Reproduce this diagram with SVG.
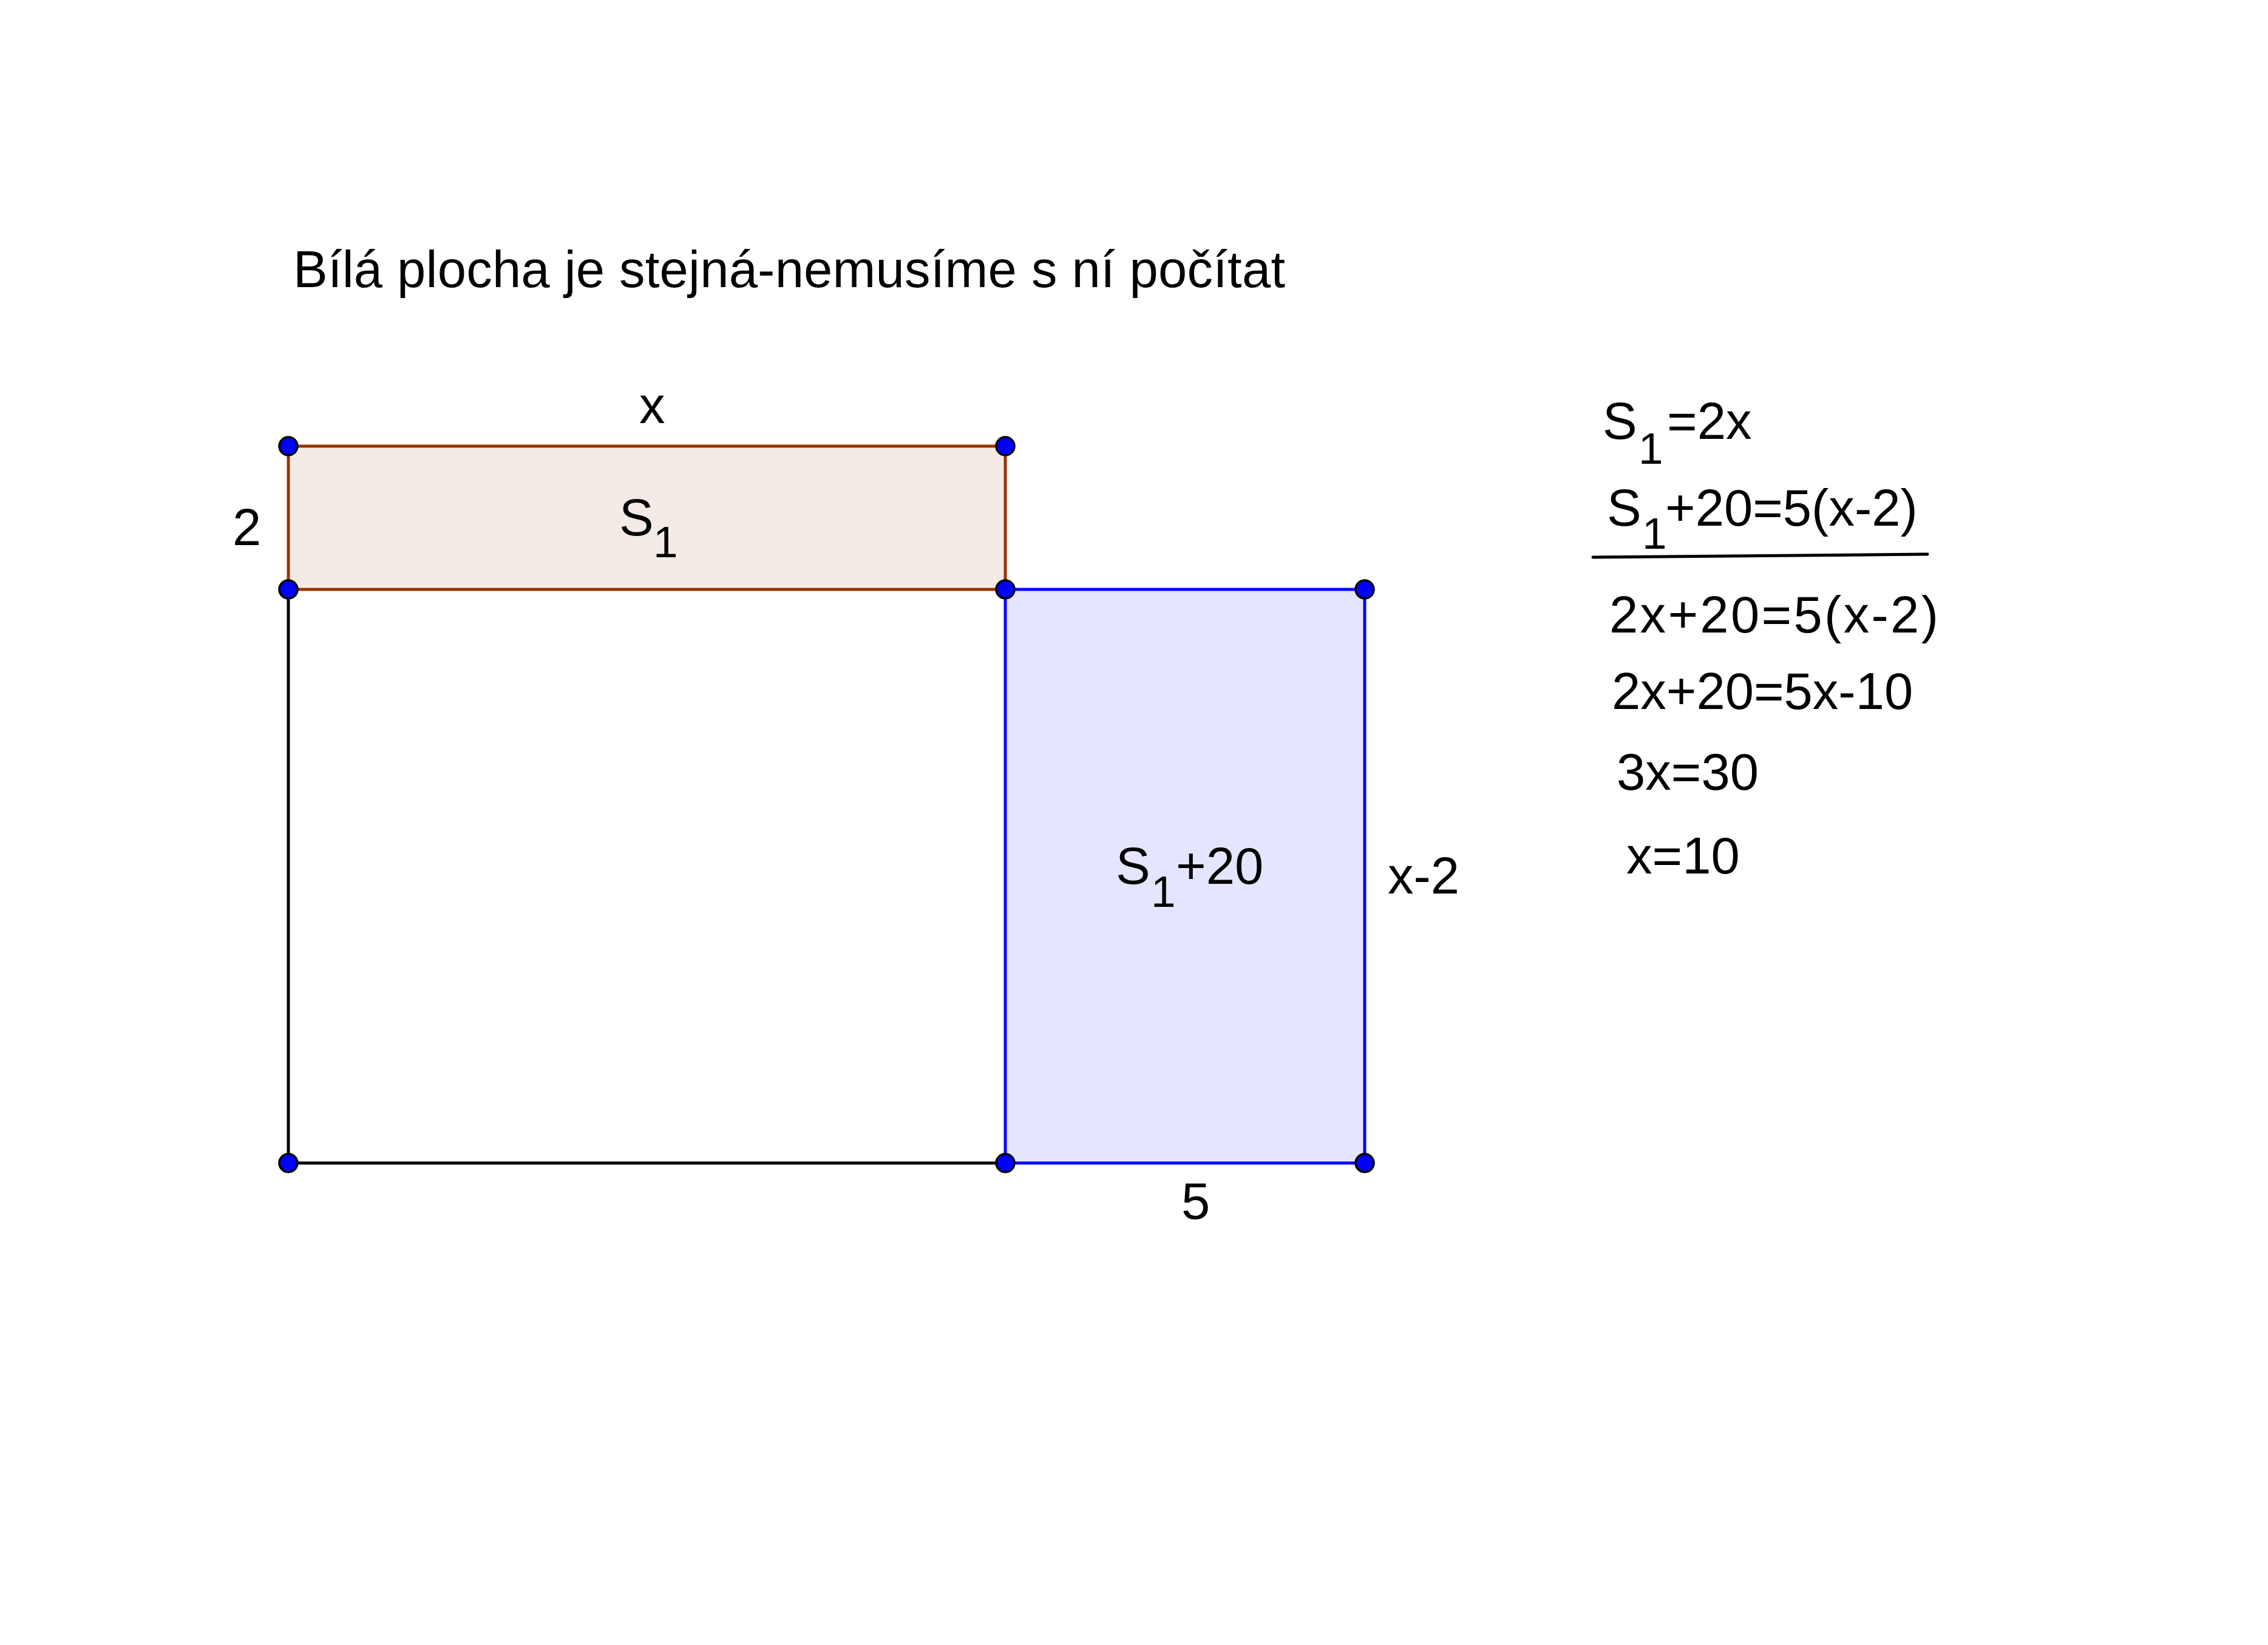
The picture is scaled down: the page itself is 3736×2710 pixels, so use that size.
<svg xmlns="http://www.w3.org/2000/svg" width="3736" height="2710" viewBox="0 0 3736 2710">
<style>
text{font-family:"Liberation Sans",Arial,sans-serif;font-size:85px;fill:#000}
.sub{font-size:73px}
.seg{stroke-width:5;fill:none;stroke-linecap:butt}
.brown{stroke:#993300}
.blue{stroke:#0000FF}
.black{stroke:#000}
.pt{fill:#0000FF;stroke:#000;stroke-width:3.5}
</style>
<rect width="3736" height="2710" fill="#fff"/>
<text id="title" x="483" y="473" textLength="1634" lengthAdjust="spacing">Bílá plocha je stejná-nemusíme s ní počítat</text>
<g id="rectS1">
<rect x="475" y="735" width="1181" height="236" fill="#F5EBE6"/>
<text x="1020" y="882">S</text><text class="sub" x="1076" y="918">1</text>
</g>
<g id="rectS1plus20">
<rect x="1656" y="971" width="592" height="945" fill="#E5E5FF"/>
<text x="1838" y="1456">S</text><text class="sub" x="1896" y="1494">1</text><text x="1937" y="1456">+20</text>
</g>
<g id="connectors">
<line class="seg brown" x1="475" y1="735" x2="1656" y2="735"/>
<line class="seg brown" x1="1656" y1="735" x2="1656" y2="971"/>
<line class="seg brown" x1="475" y1="735" x2="475" y2="971"/>
<line class="seg black" x1="475" y1="971" x2="475" y2="1916"/>
<line class="seg black" x1="475" y1="1916" x2="1656" y2="1916"/>
<line class="seg blue" x1="1656" y1="971" x2="1656" y2="1916"/>
<line class="seg blue" x1="1656" y1="1916" x2="2248" y2="1916"/>
<line class="seg blue" x1="2248" y1="971" x2="2248" y2="1916"/>
<line class="seg blue" x1="1656" y1="971" x2="2248" y2="971"/>
<line class="seg brown" x1="475" y1="971" x2="1656" y2="971"/>
<line x1="2624" y1="918" x2="3175" y2="913" stroke="#000" stroke-width="5" stroke-linecap="round"/>
</g>
<g id="points">
<circle class="pt" cx="475" cy="735" r="15"/>
<circle class="pt" cx="1656" cy="735" r="15"/>
<circle class="pt" cx="475" cy="971" r="15"/>
<circle class="pt" cx="1656" cy="971" r="15"/>
<circle class="pt" cx="2248" cy="971" r="15"/>
<circle class="pt" cx="475" cy="1916" r="15"/>
<circle class="pt" cx="1656" cy="1916" r="15"/>
<circle class="pt" cx="2248" cy="1916" r="15"/>
</g>
<g id="labels">
<text x="1053" y="697">x</text>
<text x="383" y="898">2</text>
<text x="2286" y="1472">x-2</text>
<text x="1946" y="2008">5</text>
</g>
<g id="equations">
<text x="2640" y="723">S</text><text class="sub" x="2699" y="764">1</text><text x="2746" y="723">=2x</text>
<text x="2647" y="866">S</text><text class="sub" x="2705" y="904">1</text><text x="2743" y="866">+20=5(x-2)</text>
<text x="2651" y="1042" textLength="542" lengthAdjust="spacing">2x+20=5(x-2)</text>
<text x="2655" y="1168">2x+20=5x-10</text>
<text x="2663" y="1301">3x=30</text>
<text x="2679" y="1439">x=10</text>
</g>
</svg>
